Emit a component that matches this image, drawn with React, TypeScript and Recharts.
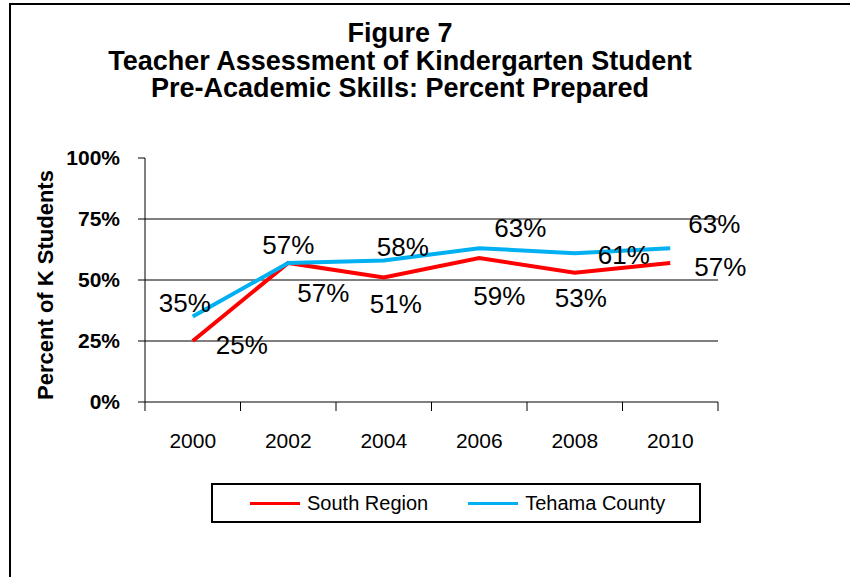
import { CartesianGrid, LabelList, Legend, Line, LineChart, XAxis, YAxis } from "recharts"

const years = ["2000", "2002", "2004", "2006", "2008", "2010"]
const southRegion = [25, 57, 51, 59, 53, 57]
const tehamaCounty = [35, 57, 58, 63, 61, 63]
const yTicks = [0, 25, 50, 75, 100]
const gridValues = [25, 50, 75]

// labels in the original were dragged around by hand, so each one gets a nudge (px from its point)
const southNudge = [[49, 4], [35, 30], [12, 26], [20, 38], [6, 25], [50, 4]]
const tehamaNudge = [[-8, -14], [0, -18], [19, -14], [41, -21], [49, 2], [44, -25]]

const data = years.map((year, i) => ({ year, south: southRegion[i], tehama: tehamaCounty[i] }))

const font = '"Liberation Sans", Arial, sans-serif'
const plotWidth = 573

const pointLabel = (nudge: number[][]) => (p: any) => {
  const [dx, dy] = nudge[p.index] ?? [0, 0]
  return (
    <text x={p.x + dx} y={p.y + dy} dy="0.355em" textAnchor="middle" fontSize={26} fontFamily={font} fill="#000">
      {p.value}%
    </text>
  )
}

// year label in the middle of its band, tick marks on the band edges (like excel's "between" ticks)
const YearTick = (p: any) => {
  const half = p.payload?.offset || plotWidth / years.length / 2
  const last = p.index === years.length - 1
  return (
    <g>
      <line x1={p.x - half} x2={p.x - half} y1={p.y} y2={p.y + 9} stroke="#000" />
      {last && <line x1={p.x + half} x2={p.x + half} y1={p.y} y2={p.y + 9} stroke="#000" />}
      <text x={p.x} y={p.y + 31} dy="0.71em" textAnchor="middle" fontSize={21} fontFamily={font} fill="#000">
        {p.payload.value}
      </text>
    </g>
  )
}

const AxisTitle = () => (
  <text
    x={45}
    y={285}
    transform="rotate(-90 45 285)"
    textAnchor="middle"
    dy="0.355em"
    fontSize={22}
    fontWeight="bold"
    fontFamily={font}
    fill="#000"
  >
    Percent of K Students
  </text>
)

const renderLegend = (props: any) => (
  <div
    style={{
      boxSizing: "border-box",
      width: 490,
      height: 40,
      border: "2px solid #000",
      display: "flex",
      alignItems: "center",
      paddingLeft: 37,
      fontFamily: font,
      fontSize: 20,
      color: "#000",
      background: "#fff",
      whiteSpace: "nowrap",
    }}
  >
    {(props.payload || []).map((e: any, i: number) => (
      <div key={i} style={{ display: "flex", alignItems: "center", marginRight: 40 }}>
        <span style={{ display: "inline-block", width: 50, height: 3, background: e.color, marginRight: 7 }} />
        <span>{e.value}</span>
      </div>
    ))}
  </div>
)

export default function App() {
  return (
    <div style={{ position: "absolute", left: 0, top: 0, width: 850, height: 577, background: "#fff", overflow: "hidden" }}>
      <div style={{ position: "absolute", left: 9, top: 3, right: -10, bottom: -10, borderTop: "2px solid #000", borderLeft: "2px solid #000" }} />
      <div
        style={{
          position: "absolute",
          left: 0,
          top: 20,
          width: 800,
          textAlign: "center",
          fontFamily: font,
          fontWeight: "bold",
          fontSize: 27,
          lineHeight: "27.5px",
          color: "#000",
        }}
      >
        Figure 7
        <br />
        Teacher Assessment of Kindergarten Student
        <br />
        Pre-Academic Skills: Percent Prepared
      </div>
      <LineChart width={850} height={577} data={data} margin={{ top: 158, right: 132, bottom: 174, left: 85 }}>
        <CartesianGrid xAxisId="cat" vertical={false} horizontalValues={gridValues} stroke="#000" />
        <XAxis
          xAxisId="cat"
          dataKey="year"
          scale="band"
          height={1}
          interval={0}
          axisLine={{ stroke: "#000" }}
          tickLine={false}
          tickSize={0}
          tickMargin={0}
          tick={<YearTick />}
        />
        <YAxis
          domain={[0, 100]}
          ticks={yTicks}
          tickFormatter={(v: number) => `${v}%`}
          width={60}
          tickSize={7}
          tickMargin={18}
          axisLine={{ stroke: "#000" }}
          tickLine={{ stroke: "#000" }}
          tick={{ fill: "#000", fontSize: 21, fontWeight: "bold", fontFamily: font }}
          label={<AxisTitle />}
        />
        <Legend
          layout="horizontal"
          verticalAlign="middle"
          align="center"
          wrapperStyle={{ left: 211, top: 483, width: 490, height: 40 }}
          content={renderLegend}
        />
        <Line
          xAxisId="cat"
          dataKey="south"
          name="South Region"
          stroke="#FF0000"
          strokeWidth={4}
          dot={false}
          isAnimationActive={false}
        >
          <LabelList dataKey="south" content={pointLabel(southNudge)} />
        </Line>
        <Line
          xAxisId="cat"
          dataKey="tehama"
          name="Tehama County"
          stroke="#00B0F0"
          strokeWidth={4}
          dot={false}
          isAnimationActive={false}
        >
          <LabelList dataKey="tehama" content={pointLabel(tehamaNudge)} />
        </Line>
      </LineChart>
    </div>
  )
}
